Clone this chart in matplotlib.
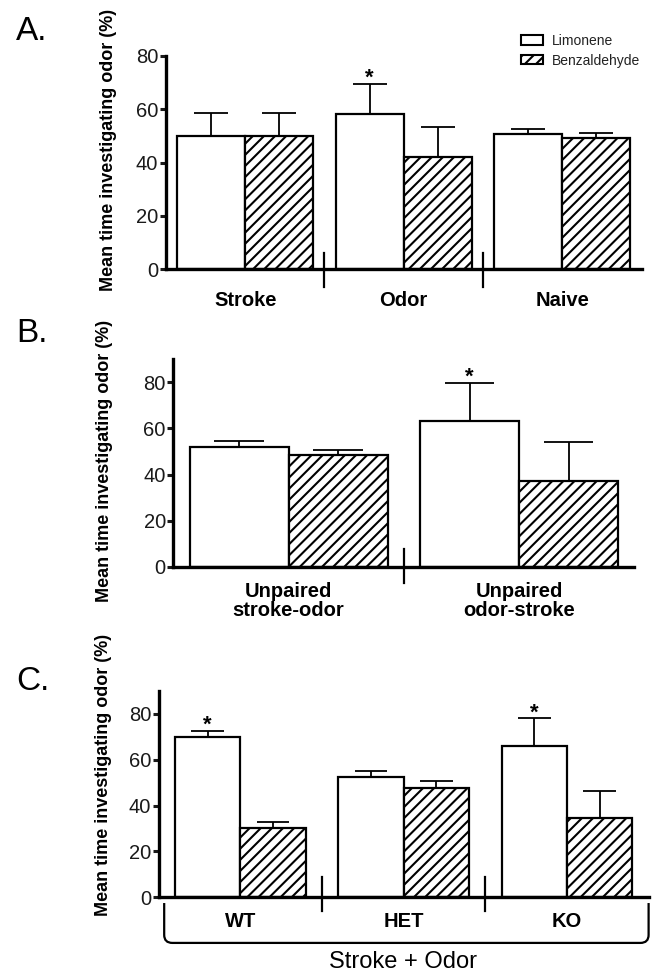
import numpy as np
import matplotlib
matplotlib.use("Agg")
import matplotlib.pyplot as plt
from matplotlib.patches import Patch, PathPatch
from matplotlib.path import Path

plt.rcParams['font.family'] = ['Liberation Sans', 'DejaVu Sans']
plt.rcParams['hatch.linewidth'] = 1.5

# ---- data ----
groups_a = ['Stroke', 'Odor', 'Naive']
lim_a = [50.0, 58.0, 50.6]
lim_a_sem = [8.4, 11.4, 1.8]
benz_a = [50.0, 42.0, 49.3]
benz_a_sem = [8.5, 11.4, 1.7]
star_a = [False, True, False]

groups_b = ['Unpaired\nstroke-odor', 'Unpaired\nodor-stroke']
lim_b = [52.1, 63.2]
lim_b_sem = [2.4, 16.7]
benz_b = [48.3, 37.3]
benz_b_sem = [2.3, 16.8]
star_b = [False, True]

groups_c = ['WT', 'HET', 'KO']
lim_c = [70.1, 52.6, 66.0]
lim_c_sem = [2.6, 2.6, 12.1]
benz_c = [30.2, 47.8, 34.4]
benz_c_sem = [2.6, 2.8, 11.9]
star_c = [True, False, True]

yticks = [0, 20, 40, 60, 80]
ylabel = 'Mean time investigating odor (%)'

W, H = 652, 973
fig = plt.figure(figsize=(W / 100, H / 100), dpi=100)


def px_axes(left, top, right, bottom):
    return fig.add_axes([left / W, 1 - bottom / H, (right - left) / W, (bottom - top) / H])


def panel(ax, groups, lim, lim_sem, benz, benz_sem, stars, width, ymax,
          sep_span, lab_off, ylab_xy):
    x = np.arange(len(groups))
    ax.bar(x - width / 2, lim, width, color='white', edgecolor='black', linewidth=1.6, zorder=2)
    ax.bar(x + width / 2, benz, width, color='white', edgecolor='black', linewidth=1.6,
           hatch='///', zorder=2)
    for xs, vals, sems in [(x - width / 2, lim, lim_sem), (x + width / 2, benz, benz_sem)]:
        tops = np.array(vals) + np.array(sems)
        ax.vlines(xs, vals, tops, color='black', linewidth=1.3, zorder=1)
        ax.hlines(tops, xs - width / 4, xs + width / 4, color='black', linewidth=1.3, zorder=1)
    for xi, v, s, st in zip(x - width / 2, lim, lim_sem, stars):
        if st:
            ax.text(xi, v + s, '*', ha='center', va='baseline', fontsize=16, fontweight='bold')
    # group separators crossing the x axis
    for xs in x[:-1] + 0.5:
        ax.plot([xs, xs], sep_span, color='black', linewidth=1.6, clip_on=False)
    for xi, g in zip(x, groups):
        ax.annotate(g, xy=(xi, 0), xycoords=('data', 'axes fraction'), xytext=(0, -lab_off),
                    textcoords='offset points', ha='center', va='center',
                    fontsize=14.5, fontweight='bold', linespacing=1.0)
    ax.set_xlim(-0.5, len(groups) - 0.5)
    ax.set_ylim(0, ymax)
    ax.set_yticks(yticks)
    ax.set_xticks([])
    ax.tick_params(axis='y', labelsize=14.5, length=4, width=2.2, pad=1.5, colors='#1a1a1a')
    for side in ['top', 'right']:
        ax.spines[side].set_visible(False)
    for side in ['left', 'bottom']:
        ax.spines[side].set_linewidth(2.4)
    ax.set_ylabel(ylabel, fontsize=13, fontweight='bold', ha='center', va='center')
    ax.yaxis.set_label_coords(*ylab_xy)


axA = px_axes(165.9, 55.7, 641.5, 269.3)
panel(axA, groups_a, lim_a, lim_a_sem, benz_a, benz_a_sem, star_a, 0.43, 80,
      (-6.6, 6.1), 22.3, (-0.12, 0.56))

axB = px_axes(173.4, 359.3, 634.3, 566.7)
panel(axB, groups_b, lim_b, lim_b_sem, benz_b, benz_b_sem, star_b, 0.43, 90,
      (-7.2, 7.5), 24.5, (-0.15, 0.51))

axC = px_axes(158.8, 691.0, 648.6, 897.3)
panel(axC, groups_c, lim_c, lim_c_sem, benz_c, benz_c_sem, star_c, 0.40, 90,
      (-5.8, 9.0), 17.5, (-0.113, 0.593))

# bracket under panel C
x0, x1, yt, yb, rx, ry = -0.467, 2.5, -2.5, -19.9, 0.05, 3.5
verts = [(x0, yt), (x0, yb + ry), (x0, yb), (x0 + rx, yb), (x1 - rx, yb), (x1, yb),
         (x1, yb + ry), (x1, yt)]
codes = [Path.MOVETO, Path.LINETO, Path.CURVE3, Path.CURVE3, Path.LINETO, Path.CURVE3,
         Path.CURVE3, Path.LINETO]
axC.add_patch(PathPatch(Path(verts, codes), facecolor='none', edgecolor='black',
                        linewidth=1.6, clip_on=False))
fig.text(402.5 / W, 1 - 962 / H, 'Stroke + Odor', ha='center', va='center', fontsize=17)

# panel letters
for lab, yc in [('A.', 31), ('B.', 333), ('C.', 682)]:
    fig.text(16 / W, 1 - yc / H, lab, ha='left', va='center', fontsize=24)

handles = [Patch(facecolor='white', edgecolor='black', linewidth=1.5),
           Patch(facecolor='white', edgecolor='black', linewidth=1.5, hatch='///')]
fig.legend(handles, ['Limonene', 'Benzaldehyde'], loc='upper left',
           bbox_to_anchor=(520.5 / W, 1 - 34 / H), frameon=False, fontsize=10,
           handlelength=1.6, handleheight=0.65, handletextpad=0.65, labelspacing=0.4,
           borderpad=0, borderaxespad=0, labelcolor='#222222')

fig.savefig('out.png', dpi=100)
